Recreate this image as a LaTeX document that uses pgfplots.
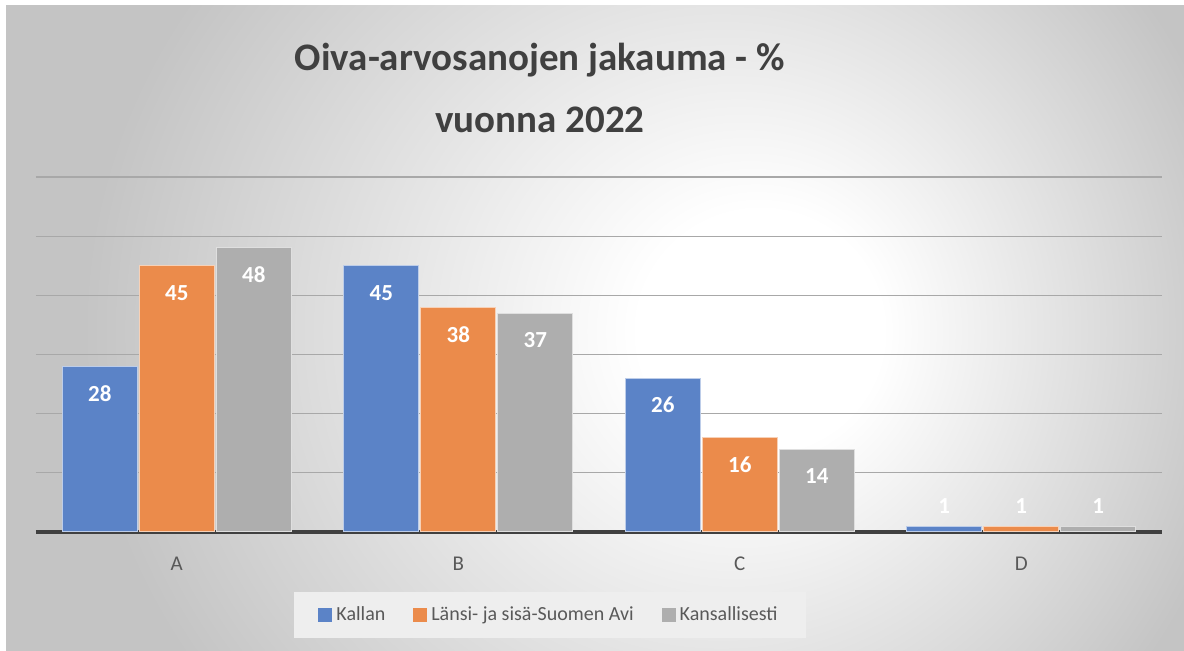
\documentclass[border=0pt]{standalone}
\usepackage{fontspec}
\setmainfont{Carlito}
\usepackage{pgfplots}
\pgfplotsset{compat=1.18}

\definecolor{kallan}{RGB}{91,131,199}
\definecolor{lansi}{RGB}{235,139,75}
\definecolor{kans}{RGB}{174,174,174}
\definecolor{titletext}{RGB}{64,64,64}
\definecolor{labeltext}{RGB}{89,89,89}
\definecolor{gridgray}{RGB}{168,168,168}
\definecolor{axisdark}{RGB}{64,64,64}
\definecolor{bgedge}{RGB}{196,196,196}
\definecolor{legbox}{RGB}{238,238,238}

\pgfdeclareradialshading{bgshade}{\pgfpoint{8bp}{0bp}}{%
  color(0bp)=(white); color(5bp)=(white); color(24bp)=(bgedge); color(40bp)=(bgedge)}

\pgfplotsset{
  sqlegend/.style={legend image code/.code={%
    \path[##1,draw=none] (0pt,-3.5pt) rectangle (7pt,3.5pt);}},
}

\begin{document}
\begin{tikzpicture}
\useasboundingbox (0,0) rectangle (592pt,325.5pt);
\fill[white] (0,0) rectangle (592pt,325.5pt);
\begin{scope}
  \clip (3pt,0) rectangle (592pt,322.5pt);
  \shade[shading=bgshade] (-10pt,-140pt) rectangle (600pt,460pt);
\end{scope}

% title
\node[anchor=base, font=\bfseries\fontsize{19.5}{24}\selectfont, text=titletext]
  at (270pt,290.2pt) {Oiva-arvosanojen jakauma - \%};
\node[anchor=base, font=\bfseries\fontsize{19.5}{24}\selectfont, text=titletext]
  at (270pt,259pt) {vuonna 2022};

\begin{axis}[
  at={(18pt,59.5pt)}, anchor=south west,
  scale only axis, width=563pt, height=177.5pt,
  ybar=1pt, bar width=37.5pt,
  xmin=-0.5, xmax=3.5, ymin=0, ymax=60,
  xtick={0,1,2,3}, xticklabels={A,B,C,D},
  xtick style={draw=none},
  xticklabel style={font=\fontsize{10.5}{12}\selectfont, text=labeltext, yshift=-7pt},
  ytick={10,20,...,60}, yticklabels={}, ytick style={draw=none},
  ymajorgrids, grid style={draw=gridgray, line width=0.6pt},
  axis x line=bottom, axis y line=left,
  x axis line style={draw=axisdark, line width=1.6pt, -},
  y axis line style={draw=none},
  clip=false,
  nodes near coords,
  /pgf/number format/assume math mode=true,
  visualization depends on=rawy \as \rawy,
  every node near coord/.append style={
    font=\bfseries\fontsize{11.5}{12}\selectfont, text=white,
    anchor=center, inner sep=0pt,
    yshift={(\rawy<5)*23.5-13.5}},
  legend columns=-1,
  legend style={at={(0.4565,-0.234)}, anchor=center,
    draw=none, fill=legbox,
    font=\fontsize{10}{12}\selectfont, text=labeltext,
    inner xsep=12pt, inner ysep=5.5pt,
    /tikz/every even column/.append style={column sep=12pt}},
]
\addplot[sqlegend, fill=kallan, draw=kallan!40!white, line width=0.5pt]
  coordinates {(0,28) (1,45) (2,26) (3,1)};
\addplot[sqlegend, fill=lansi, draw=lansi!40!white, line width=0.5pt]
  coordinates {(0,45) (1,38) (2,16) (3,1)};
\addplot[sqlegend, fill=kans, draw=kans!40!white, line width=0.5pt]
  coordinates {(0,48) (1,37) (2,14) (3,1)};
\legend{Kallan, Länsi- ja sisä-Suomen Avi, Kansallisesti}
\end{axis}
\end{tikzpicture}
\end{document}
